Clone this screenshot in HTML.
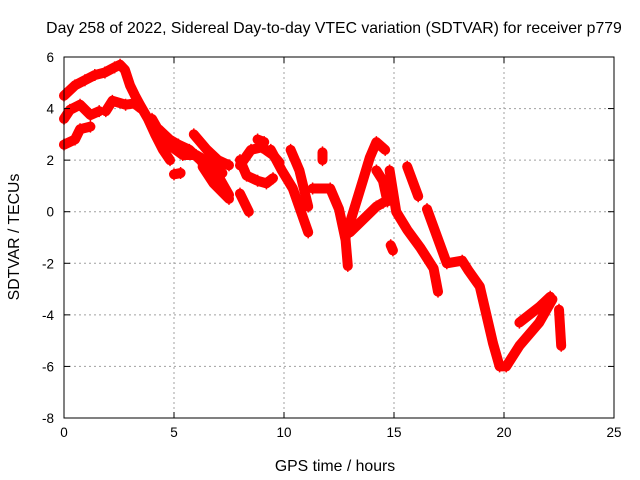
<!DOCTYPE html>
<html><head><meta charset="utf-8"><style>
body{margin:0;background:#fff}
svg{display:block;font-family:"Liberation Sans",sans-serif}
</style></head><body>
<svg id="chart" width="640" height="480">
<text x="334" y="33" text-anchor="middle" font-size="15.8">Day 258 of 2022, Sidereal Day-to-day VTEC variation (SDTVAR) for receiver p779</text>
<text x="335" y="471" text-anchor="middle" font-size="15.8">GPS time / hours</text>
<text transform="translate(19,237) rotate(-90)" text-anchor="middle" font-size="15.8">SDTVAR / TECUs</text>
<g id="grid"></g><g id="marks"></g><g id="axes"></g>
</svg>
<script>
const xTicks=[0,5,10,15,20,25];
const yTicks=[6,4,2,0,-2,-4,-6,-8];
const trackA=[[0,4.5],[0.5,4.9],[0.95,5.1],[1.4,5.3],[1.86,5.4],[2.3,5.6],[2.55,5.7],[2.77,5.5],[3.0,4.9],[3.23,4.5],[3.45,4.15],[3.82,3.6],[4.14,3.0],[4.5,2.4],[4.82,2.0]];
const trackB=[[1.9,3.9],[2.2,4.3],[2.8,4.15],[3.2,4.2],[3.5,4.0]];
const trackC=[[0,3.6],[0.27,3.95],[0.73,4.15],[1.2,3.75],[1.6,3.9]];
const trackD=[[0,2.6],[0.5,2.8],[0.73,3.2],[1.2,3.3]];
const trackE=[[4.3,3.2],[4.8,2.8],[5.2,2.6],[5.7,2.4],[6.2,2.0],[6.6,1.6],[7.1,1.25],[7.5,0.65]];
const trackE2=[[5.9,3.0],[6.5,2.4],[7.0,2.0],[7.5,1.8]];
const trackE3=[[6.3,1.75],[6.8,1.1],[7.5,0.5]];
const trackE4=[[5.0,1.45],[5.3,1.5]];
const trackE5=[[4.0,3.6],[4.6,2.7],[5.4,2.2],[6.0,2.2],[6.6,1.9],[7.2,1.5]];
const trackF1=[[8.0,2.0],[8.3,1.4],[8.8,1.2],[9.2,1.1],[9.5,1.3]];
const trackF2=[[8.0,1.8],[8.5,2.4],[9.0,2.5],[9.5,2.2],[9.8,1.9]];
const trackF3=[[8.0,0.7],[8.4,0.0]];
const trackF4=[[8.8,2.8],[9.1,2.7]];
const trackG1=[[9.4,2.4],[9.9,1.6],[10.4,0.9],[11.1,-0.8]];
const trackG2=[[10.3,2.4],[10.7,1.6],[11.1,0.2]];
const trackG3=[[11.75,2.3],[11.75,2.0]];
const trackH=[[11.3,0.9],[12.1,0.9],[12.5,0.1],[12.8,-1.1],[12.9,-2.1]];
const trackI1=[[12.9,-0.7],[13.6,1.25],[13.9,2.1],[14.2,2.7],[14.6,2.4]];
const trackI2=[[13.0,-0.8],[14.2,0.2],[14.5,0.35]];
const trackI3=[[14.2,1.6],[14.5,1.2],[14.7,0.4]];
const trackJ1=[[14.8,1.6],[15.1,0],[15.6,-0.7],[16.2,-1.4],[16.8,-2.2],[17.0,-3.1]];
const trackJ2=[[15.6,1.75],[16.1,0.6]];
const trackJ3=[[14.85,-1.3],[14.95,-1.5]];
const trackK1=[[16.5,0.1],[17.4,-2.0],[18.1,-1.9],[18.4,-2.3],[18.9,-2.9],[19.5,-5.1],[19.8,-6.0],[20.1,-6.0],[20.7,-5.2],[21.6,-4.3],[22.2,-3.4]];
const trackK2=[[20.7,-4.3],[21.6,-3.7],[22.1,-3.3]];
const trackL=[[22.5,-3.8],[22.6,-5.2]];
const tracks=[trackA,trackB,trackC,trackD,trackE,trackE2,trackE3,trackE4,trackE5,trackF1,trackF2,trackF3,trackF4,trackG1,trackG2,trackG3,trackH,trackI1,trackI2,trackI3,trackJ1,trackJ2,trackJ3,trackK1,trackK2,trackL];

const X0=64,X1=614,Y0=57,Y1=418;
const xs=h=>X0+(h-0)/25*(X1-X0);
const ys=v=>Y0+(6-v)/14*(Y1-Y0);
const NS='http://www.w3.org/2000/svg';
const mk=(t,a,p)=>{const e=document.createElementNS(NS,t);for(const k in a)e.setAttribute(k,a[k]);p.appendChild(e);return e;};
const grid=document.getElementById('grid'),marks=document.getElementById('marks'),axes=document.getElementById('axes');

xTicks.forEach(t=>{
  const x=xs(t);
  if(t>0&&t<25){const g=mk('line',{x1:x,x2:x,y1:Y0,y2:Y1,stroke:'#a0a0a0','stroke-dasharray':'2,3'},grid);
  
  }
  mk('line',{x1:x,x2:x,y1:Y1,y2:Y1-6,stroke:'#000'},axes);
  mk('line',{x1:x,x2:x,y1:Y0,y2:Y0+6,stroke:'#000'},axes);
  const l=mk('text',{x:x,y:Y1+19,'text-anchor':'middle','font-size':'13.5'},axes);l.textContent=t;
  
  
});
yTicks.forEach(t=>{
  const y=ys(t);
  if(t<6&&t>-8){const g=mk('line',{x1:X0,x2:X1,y1:y,y2:y,stroke:'#a0a0a0','stroke-dasharray':'2,3'},grid);
  
  }
  mk('line',{x1:X0,x2:X0+6,y1:y,y2:y,stroke:'#000'},axes);
  mk('line',{x1:X1,x2:X1-6,y1:y,y2:y,stroke:'#000'},axes);
  const l=mk('text',{x:X0-10,y:y+5,'text-anchor':'end','font-size':'13.5'},axes);l.textContent=t;
  
  
});
const b=mk('rect',{x:X0,y:Y0,width:X1-X0,height:Y1-Y0,fill:'none',stroke:'#000'},axes);



tracks.forEach(tr=>{
  const pl=mk('polyline',{points:tr.map(p=>xs(p[0])+','+ys(p[1])).join(' '),fill:'none',stroke:'#f00','stroke-width':10,'stroke-linejoin':'round','stroke-linecap':'round'},marks);
  
  
  tr.forEach(p=>{
    const x=xs(p[0]),y=ys(p[1]);
    const m=mk('path',{d:`M${x-4},${y}h8M${x},${y-6}v12`,stroke:'#f00','stroke-width':1.5},marks);
    
    
  });
});
</script>
</body></html>
